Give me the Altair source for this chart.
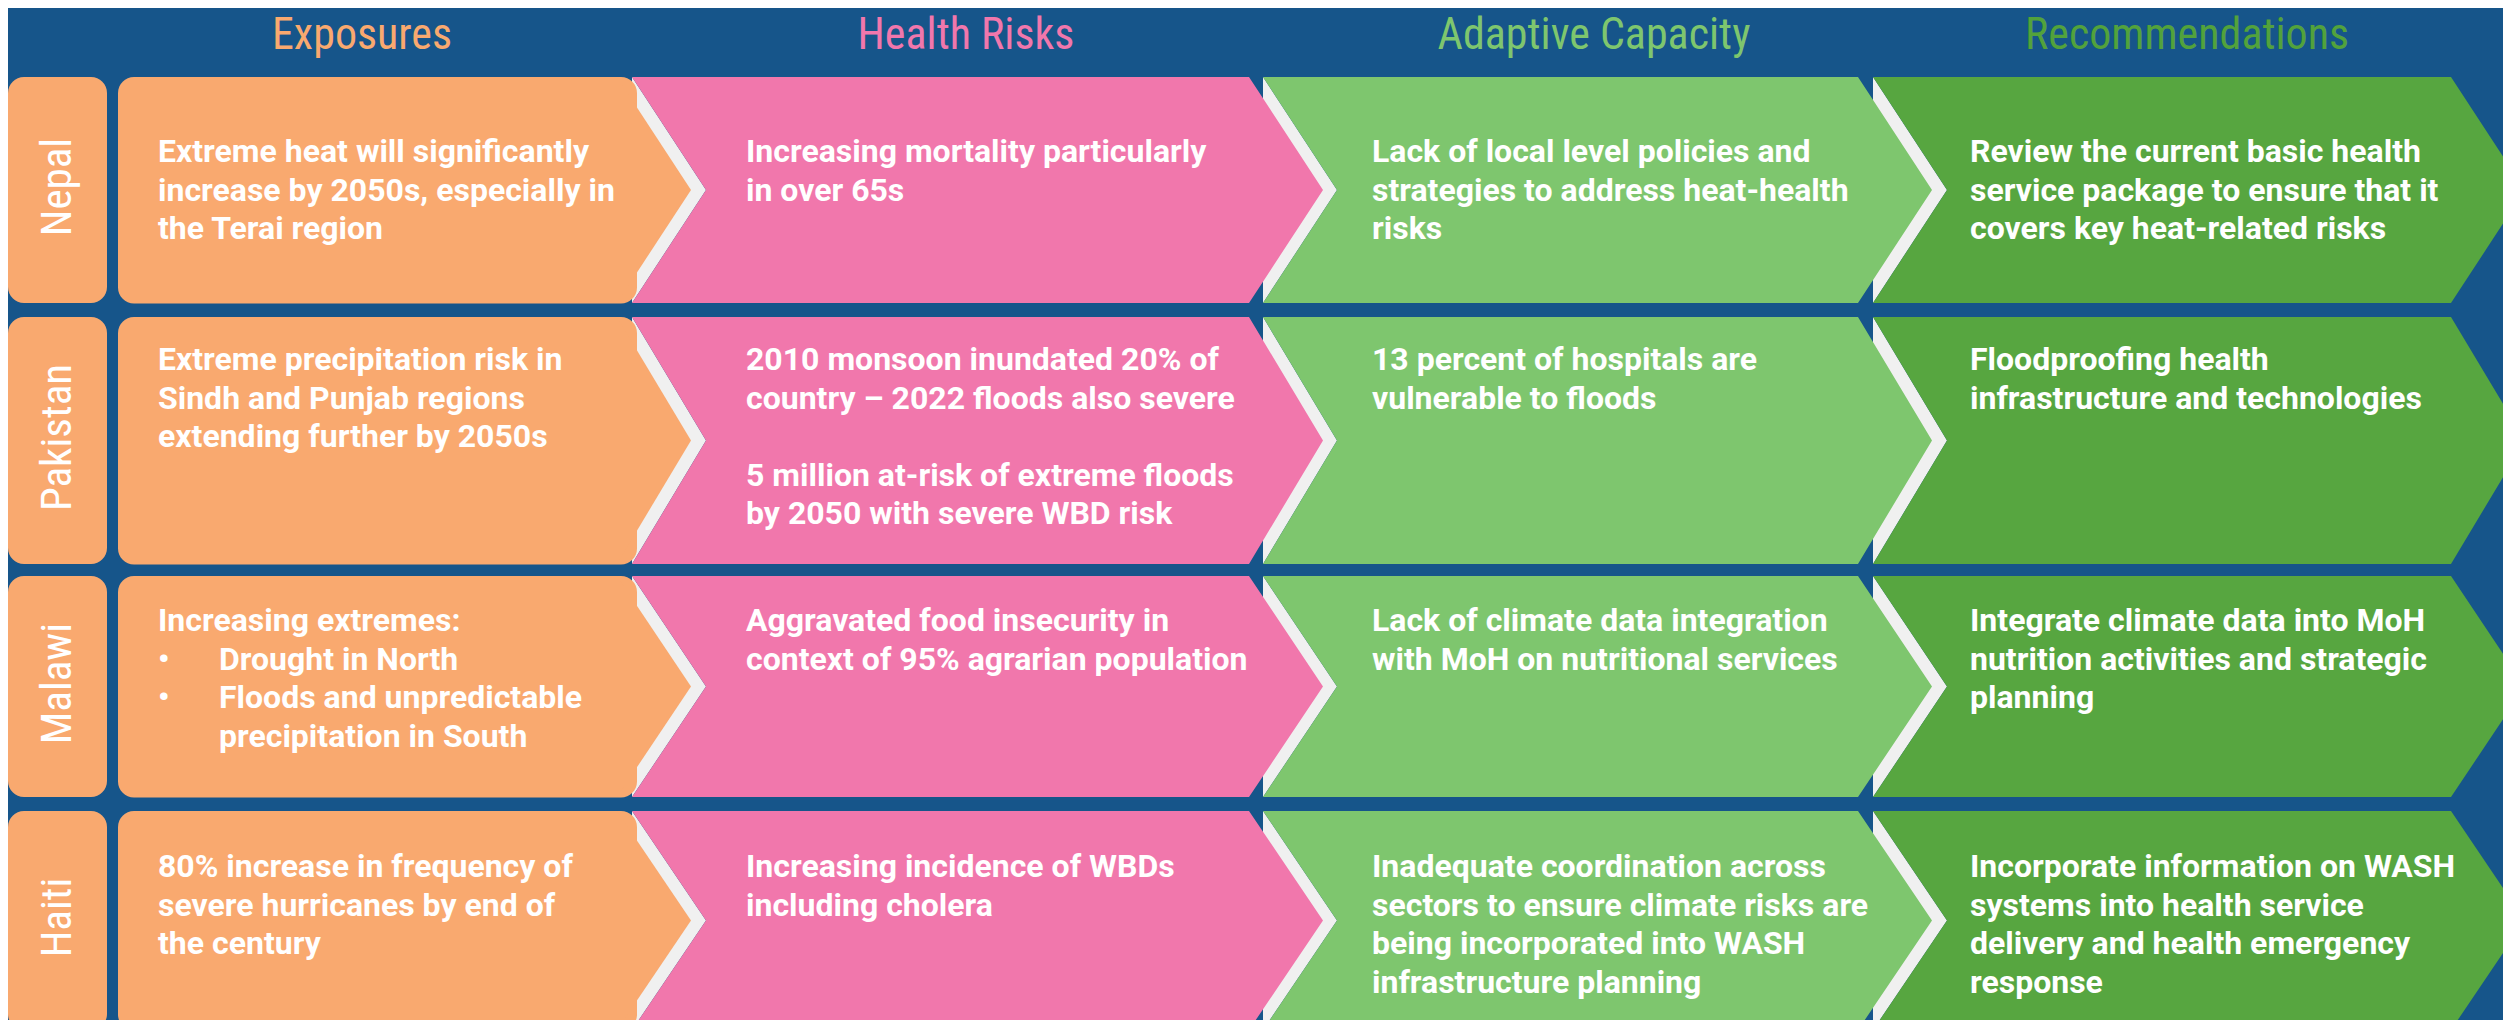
import altair as alt
import pandas as pd

# ---------------- data ----------------
COLUMNS = ["Exposures", "Health Risks", "Adaptive Capacity", "Recommendations"]
COUNTRIES = ["Nepal", "Pakistan", "Malawi", "Haiti"]

EXPOSURES = [
    "Extreme heat will significantly\nincrease by 2050s, especially in\nthe Terai region",
    "Extreme precipitation risk in\nSindh and Punjab regions\nextending further by 2050s",
    "Increasing extremes:\n• Drought in North\n• Floods and unpredictable\n  precipitation in South",
    "80% increase in frequency of\nsevere hurricanes by end of\nthe century",
]
HEALTH_RISKS = [
    "Increasing mortality particularly\nin over 65s",
    "2010 monsoon inundated 20% of\ncountry – 2022 floods also severe\n\n5 million at-risk of extreme floods\nby 2050 with severe WBD risk",
    "Aggravated food insecurity in\ncontext of 95% agrarian population",
    "Increasing incidence of WBDs\nincluding cholera",
]
ADAPTIVE_CAPACITY = [
    "Lack of local level policies and\nstrategies to address heat-health\nrisks",
    "13 percent of hospitals are\nvulnerable to floods",
    "Lack of climate data integration\nwith MoH on nutritional services",
    "Inadequate coordination across\nsectors to ensure climate risks are\nbeing incorporated into WASH\ninfrastructure planning",
]
RECOMMENDATIONS = [
    "Review the current basic health\nservice package to ensure that it\ncovers key heat-related risks",
    "Floodproofing health\ninfrastructure and technologies",
    "Integrate climate data into MoH\nnutrition activities and strategic\nplanning",
    "Incorporate information on WASH\nsystems into health service\ndelivery and health emergency\nresponse",
]
CELLS = [EXPOSURES, HEALTH_RISKS, ADAPTIVE_CAPACITY, RECOMMENDATIONS]

# ---------------- style / layout ----------------
BG = "#16558A"
FILLS = ["#F9A96F", "#F177AC", "#7EC66E", "#57A640"]
HEAD_COLORS = ["#F9A96F", "#F177AC", "#7EC66E", "#52A23C"]
BAND = "#F0F0F0"
BODY_FONT = "Roboto, Liberation Sans, sans-serif"
HEAD_FONT = "Roboto Condensed, Roboto, sans-serif"

W, H = 2495, 1012
X0, Y0 = 8, 8
ROW_TOP = [77, 317, 576, 811]
ROW_BOT = [303, 564, 797, 1030]
COL_LEFT = [118, 632, 1263, 1873]
COL_RIGHT = [617, 1249, 1858, 2451]
TIP = 74
LABEL_X = (8, 107)
TEXT_X = [158, 746, 1372, 1970]
BASE_Y0 = [162, 370, 631, 877]
LINE_H = 38.5
BULLET_INDENT = 61
HEAD_X = [362, 966, 1594, 2187]
HEAD_Y = 49

xs = alt.Scale(domain=[X0, X0 + W], nice=False, zero=False)
ys = alt.Scale(domain=[Y0, Y0 + H], nice=False, zero=False, reverse=True)

# ---------------- shapes ----------------
band_rows, shape_rows, rect_rows = [], [], []
for r in range(4):
    top, bot = ROW_TOP[r], ROW_BOT[r]
    mid = (top + bot) / 2
    rect_rows.append(dict(x=LABEL_X[0], x2=LABEL_X[1], y=top, y2=bot, fill=FILLS[0]))
    rect_rows.append(dict(x=COL_LEFT[0], x2=COL_RIGHT[0] + 20, y=top, y2=bot + 0.5, fill=FILLS[0]))
    for c in range(4):
        L, R = COL_LEFT[c], COL_RIGHT[c]
        sid = f"{r}-{c}"
        if c == 0:
            pts = [(top, R - 30, R), (mid, R - 30, R + TIP), (bot, R - 30, R)]
        else:
            pts = [(top, L, R), (mid, L + TIP, R + TIP), (bot, L, R)]
            for yy, a, b in [(top, L, L), (mid, L, L + TIP), (bot, L, L)]:
                band_rows.append(dict(sid=sid, y=yy, x=a, x2=b, fill=BAND))
        for yy, a, b in pts:
            shape_rows.append(dict(sid=sid, y=yy, x=a, x2=b, fill=FILLS[c]))

def area_layer(rows):
    return alt.Chart(pd.DataFrame(rows)).mark_area(
        orient="horizontal", clip=True, strokeWidth=0, interpolate="linear"
    ).encode(
        y=alt.Y("y:Q", scale=ys, axis=None),
        x=alt.X("x:Q", scale=xs, axis=None, stack=None),
        x2="x2:Q",
        color=alt.Color("fill:N", scale=None),
        detail="sid:N",
    )

bands = area_layer(band_rows)
shapes = area_layer(shape_rows)

rects = alt.Chart(pd.DataFrame(rect_rows)).mark_rect(cornerRadius=16, clip=True).encode(
    x=alt.X("x:Q", scale=xs, axis=None),
    x2="x2:Q",
    y=alt.Y("y:Q", scale=ys, axis=None),
    y2="y2:Q",
    color=alt.Color("fill:N", scale=None),
)

# ---------------- texts ----------------
text_rows, bullet_rows = [], []
for c in range(4):
    for r in range(4):
        for i, line in enumerate(CELLS[c][r].split("\n")):
            if not line.strip():
                continue
            y = BASE_Y0[r] + i * LINE_H
            x = TEXT_X[c]
            if line.startswith("• "):
                bullet_rows.append(dict(x=x, y=y, t="•"))
                line = line[2:]
                x += BULLET_INDENT
            elif line.startswith("  "):
                line = line.strip()
                x += BULLET_INDENT
            text_rows.append(dict(x=x, y=y, t=line))

body = alt.Chart(pd.DataFrame(text_rows + bullet_rows)).mark_text(
    align="left", baseline="alphabetic", font=BODY_FONT, fontSize=32, fontWeight="bold",
    color="white", clip=True,
).encode(
    x=alt.X("x:Q", scale=xs, axis=None),
    y=alt.Y("y:Q", scale=ys, axis=None),
    text="t:N",
)

head_df = pd.DataFrame(dict(x=HEAD_X, y=[HEAD_Y] * 4, t=COLUMNS, col=HEAD_COLORS))
heads = alt.Chart(head_df).mark_text(
    align="center", baseline="alphabetic", font=HEAD_FONT, fontSize=44, fontWeight="normal",
).encode(
    x=alt.X("x:Q", scale=xs, axis=None),
    y=alt.Y("y:Q", scale=ys, axis=None),
    text="t:N",
    color=alt.Color("col:N", scale=None),
)

lab_df = pd.DataFrame(dict(
    x=[(LABEL_X[0] + LABEL_X[1]) / 2] * 4,
    y=[(ROW_TOP[r] + ROW_BOT[r]) / 2 - 3 for r in range(4)],
    t=COUNTRIES,
))
labels = alt.Chart(lab_df).mark_text(
    align="center", baseline="middle", font=HEAD_FONT, fontSize=43, fontWeight="normal",
    angle=270, color="white",
).encode(
    x=alt.X("x:Q", scale=xs, axis=None),
    y=alt.Y("y:Q", scale=ys, axis=None),
    text="t:N",
)

chart = alt.layer(bands, rects, shapes, body, heads, labels).properties(
    width=W, height=H, background=BG, padding=0,
    autosize=alt.AutoSizeParams(type="none"),
).configure_view(strokeWidth=0)

chart.save("out.html", embed_options={"renderer": "svg", "actions": False})
